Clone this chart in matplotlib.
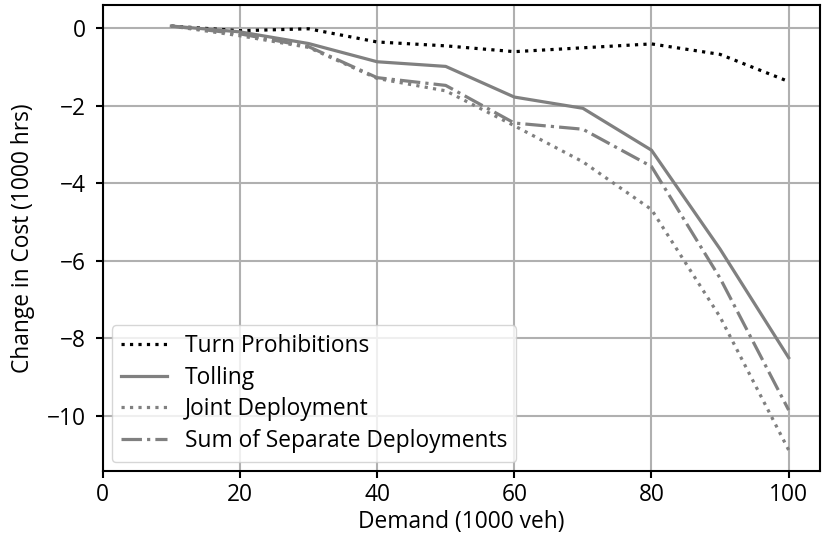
import numpy as np
import matplotlib.pyplot as plt

plt.rcParams["font.family"] = ["Open Sans", "DejaVu Sans"]

demand = [10, 20, 30, 40, 50, 60, 70, 80, 90, 100]
turn_prohibitions = [0.05, -0.07, -0.02, -0.36, -0.46, -0.61, -0.51, -0.41, -0.68, -1.38]
tolling = [0.05, -0.1, -0.4, -0.87, -0.99, -1.78, -2.07, -3.15, -5.7, -8.5]
joint_deployment = [0.05, -0.2, -0.5, -1.3, -1.62, -2.52, -3.45, -4.68, -7.45, -10.88]
sum_separate = [0.05, -0.15, -0.48, -1.28, -1.48, -2.45, -2.61, -3.57, -6.45, -9.85]

fs = 16.4
fig, ax = plt.subplots(figsize=(8.22, 5.41), dpi=100)
fig.subplots_adjust(left=0.125, right=0.997, top=0.991, bottom=0.129)

ax.plot(demand, turn_prohibitions, color="k", linestyle=":", linewidth=2.3,
        label="Turn Prohibitions")
ax.plot(demand, tolling, color="gray", linestyle="-", linewidth=2.3, label="Tolling")
ax.plot(demand, joint_deployment, color="gray", linestyle=":", linewidth=2.3,
        label="Joint Deployment")
ax.plot(demand, sum_separate, color="gray", linestyle="-.", linewidth=2.3,
        label="Sum of Separate Deployments")

ax.set_xlim(left=0)
ax.grid(True, color="#b0b0b0", linewidth=1.5)
for s in ax.spines.values():
    s.set_linewidth(1.5)
ax.set_xlabel("Demand (1000 veh)", fontsize=fs, labelpad=2)
ax.set_ylabel("Change in Cost (1000 hrs)", fontsize=fs, labelpad=9)
ax.tick_params(labelsize=fs, width=1.5, length=5)
ax.tick_params(axis="y", pad=7)
ax.legend(loc="lower left", fontsize=fs, handlelength=2.0, borderpad=0.4,
          labelspacing=0.33, borderaxespad=0.4)

fig.savefig("out.png")
